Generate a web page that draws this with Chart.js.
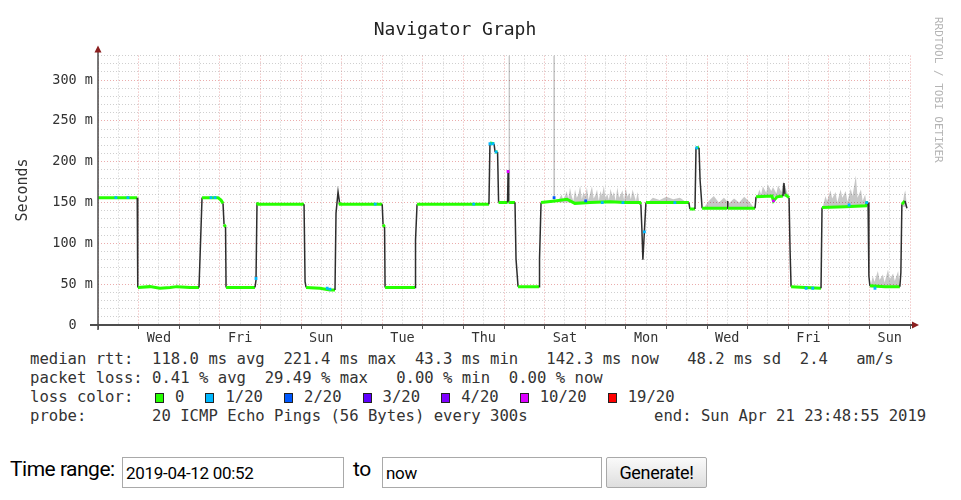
<!DOCTYPE html>
<html>
<head>
<meta charset="utf-8">
<script src="https://cdn.jsdelivr.net/npm/chart.js@4.4.1/dist/chart.umd.min.js"></script>
<style>
  body { margin: 0; background: #fff; width: 961px; height: 500px; overflow: hidden; position: relative; }
  #graph { position: absolute; left: 0; top: 0; }
  .legend { position: absolute; left: 30px; top: 350px; font: 15.6px "DejaVu Sans Mono", monospace; line-height: 19px; color: #333; }
  .legend div { height: 19px; position: relative; white-space: pre; }
  .sw { display: inline-block; width: 7px; height: 8px; border: 1px solid #222; vertical-align: -1px; margin-right: 11px; }
  .end { position: absolute; left: 624px; top: 0; }
  .lbl { position: absolute; top: 457px; height: 31px; line-height: 31px; font: 21px Roboto, sans-serif; color: #000; letter-spacing: -0.5px; }
  .box { position: absolute; top: 457px; height: 31px; box-sizing: border-box; border: 1px solid #a9a9a9; padding: 0 3px; font: 17px Roboto, sans-serif; color: #000; outline: none; letter-spacing: -0.3px; }
  button { position: absolute; top: 457px; left: 606px; width: 101px; height: 31px; font: 18px Roboto, sans-serif; letter-spacing: -0.3px;
           border: 1px solid #a9a9a9; border-radius: 2px; background: linear-gradient(#fafafa, #dedede); color: #000; padding: 0; }
</style>
</head>
<body>
<canvas id="graph" width="961" height="345"></canvas>

<div class="legend">
<div>median rtt:  118.0 ms avg  221.4 ms max  43.3 ms min   142.3 ms now   48.2 ms sd  2.4   am/s</div>
<div>packet loss: 0.41 % avg  29.49 % max   0.00 % min  0.00 % now</div>
<div id="lossRow">loss color:  </div>
<div>probe:       20 ICMP Echo Pings (56 Bytes) every 300s<span class="end">end: Sun Apr 21 23:48:55 2019</span></div>
</div>

<span class="lbl" style="left:10px">Time range:</span>
<input class="box" style="left:122px;width:222px" value="2019-04-12 00:52" readonly>
<span class="lbl" style="left:353px">to</span>
<input class="box" style="left:382px;width:220px" value="now" readonly>
<button>Generate!</button>

<script>
// hours since Tue Apr 2 00:00, median rtt in ms
const medianHours = [0, 23.2, 23.4, 23.6, 30.7, 36.6, 42.6, 46.7, 54.4, 59.7, 60.3, 61.5, 70.9, 72.7, 73.9, 74.5, 75.4, 75.7,
  83.9, 92.8, 93.4, 94.0, 94.6, 107.6, 121.8, 122.4, 123.0, 131.2, 137.1, 140.1, 140.7, 141.9, 142.8, 143.1,
  154.9, 168.0, 168.5, 169.4, 169.7, 178.5, 187.4, 187.7, 188.6, 208.1, 231.1, 231.7, 234.1, 234.7, 236.2, 236.8,
  242.1, 242.4, 242.7, 246.5, 247.1, 248.3, 260.7, 261.0, 261.9, 270.1, 277.2, 281.9, 290.8, 302.6, 311.5, 320.3,
  320.9, 321.5, 322.1, 323.0, 323.9, 338.1, 349.3, 349.9, 352.9, 353.5, 355.3, 355.9, 357.1, 371.9, 372.1, 372.4,
  388.4, 389.0, 398.4, 399.3, 401.4, 404.9, 405.5, 406.1, 408.5, 409.1, 409.7, 418.0, 427.4, 428.0, 441.6, 454.0,
  454.6, 455.2, 455.7, 456.3, 465.2, 474.0, 474.6, 475.2, 477.0, 478.2];
const medianMs = [156, 156, 101, 46, 47, 45, 46, 47, 46, 46, 82, 156, 156, 153, 149, 123, 120, 46,
  46, 46, 55, 150, 148, 148, 148, 53, 46, 45, 43, 43, 137, 163, 150, 148,
  148, 148, 123, 120, 46, 46, 46, 104, 148, 148, 148, 223, 222, 212, 212, 150,
  150, 188, 150, 150, 81, 47, 47, 81, 150, 152, 154, 149, 150, 151, 150, 150,
  148, 118, 80, 115, 150, 150, 150, 142, 142, 217, 217, 178, 143, 143, 152, 143,
  143, 157, 158, 152, 157, 158, 174, 160, 156, 92, 47, 46, 45, 144, 145, 146,
  150, 150, 60, 48, 47, 47, 64, 148, 152, 143];

// smoke (spread of the 20 pings), null = no smoke
const smokeHours = [46.3, 46.7, 47.1, 47.2,
  242.5, 242.65, 243.55, 243.7, 243.8,
  269.0, 269.15, 270.1, 270.25, 270.3,
  272, 273, 274, 275, 276, 277, 278, 279, 280, 281, 282, 283, 284, 285, 286, 287, 288, 289, 290, 291, 292, 293, 294, 295, 296,
  297, 298, 299, 300, 301, 302, 303, 304, 305, 306, 307, 308, 309, 310, 311, 312, 313, 314, 315, 316, 317, 318, 319, 320, 320.2,
  325, 328, 332, 336, 340, 344, 348, 348.2,
  358, 361, 364, 367, 370, 373, 376, 379, 382, 385, 388, 388.2,
  389.5, 391, 392, 393, 395, 396, 398, 399, 401, 402, 404, 405, 407, 408.3, 408.4,
  428.5, 430, 431, 433, 434, 436, 437, 439, 440, 442, 443, 445, 446, 448, 449, 451, 452, 453.5, 454.5, 454.6,
  456.5, 458, 459, 461, 462, 464, 465, 467, 468, 470, 471, 473, 474, 474.1,
  475.5, 476.5, 477.2, 478.2];
const smokeLow = [46, 46, 46, null,
  150, 150, 150, 150, null,
  152, 152, 152, 152, null,
  150, 150, 150, 150, 150, 150, 150, 150, 150, 150, 150, 150, 150, 150, 150, 150, 150, 150, 150, 150, 150, 150, 150, 150, 150,
  150, 150, 150, 150, 150, 150, 150, 150, 150, 150, 150, 150, 150, 150, 150, 150, 150, 150, 150, 150, 150, 150, 150, 150, null,
  150, 150, 150, 150, 150, 150, 150, null,
  143, 143, 143, 143, 143, 143, 143, 143, 143, 143, 143, null,
  157, 157, 157, 157, 157, 157, 157, 157, 157, 157, 157, 157, 157, 157, null,
  145, 145, 145, 145, 145, 145, 145, 145, 145, 145, 145, 145, 145, 145, 145, 145, 145, 145, 145, null,
  46, 46, 46, 46, 46, 46, 46, 46, 46, 46, 46, 46, 46, null,
  145, 145, 145, 145];
const smokeHigh = [46, 58, 46, null,
  150, 331, 331, 150, null,
  152, 331, 331, 152, null,
  150, 156, 160, 153, 157, 164, 155, 168, 158, 152, 166, 156, 160, 171, 154, 163, 157, 169, 153, 162, 170, 155, 159, 166, 152,
  164, 158, 171, 155, 161, 153, 167, 158, 163, 152, 169, 156, 160, 165, 153, 168, 157, 162, 154, 166, 159, 152, 163, 150, null,
  150, 156, 153, 157, 154, 156, 150, null,
  143, 152, 158, 150, 156, 149, 155, 150, 157, 151, 143, null,
  157, 166, 160, 170, 162, 172, 164, 169, 161, 171, 163, 176, 165, 157, null,
  145, 158, 152, 165, 155, 163, 150, 166, 156, 164, 151, 167, 158, 183, 156, 166, 152, 160, 145, null,
  46, 60, 53, 66, 55, 62, 52, 68, 56, 63, 54, 66, 46, null,
  145, 160, 165, 145];

// samples with packet loss
const loss1Hours = [10.6, 17.7, 66.8, 69.2, 93.4, 135.5, 137.1, 163.9, 222.1, 231.7, 233.5, 235.3, 298.1, 310.3, 323.0, 341.0, 353.9, 418.6, 422.5, 444.0, 454.4, 459.3];
const loss1Ms = [156, 156, 156, 156, 57, 45, 44, 148, 148, 222, 222, 212, 150, 150, 114, 150, 217, 45, 45, 147, 150, 45];
const loss2Hours = [269.6, 288.3];
const loss2Ms = [156, 152];
const loss10Hours = [242.4, 399.3];
const loss10Ms = [188, 152];

const dayLabels = ['Wed', 'Fri', 'Sun', 'Tue', 'Thu', 'Sat', 'Mon', 'Wed', 'Fri', 'Sun'];
const yTickLabels = ['0  ', '50 m', '100 m', '150 m', '200 m', '250 m', '300 m'];
const lossLabels = ['0', '1/20', '2/20', '3/20', '4/20', '10/20', '19/20'];
const lossColors = ['#26ff00', '#00b8ff', '#0059ff', '#5e00ff', '#7e00ff', '#dd00ff', '#ff0000'];

// loss colour row of the text legend
const row = document.getElementById('lossRow');
lossLabels.forEach((lab, i) => {
  const sw = document.createElement('span');
  sw.className = 'sw';
  sw.style.background = lossColors[i];
  sw.style.marginLeft = i === 0 ? '3px' : '21px';
  row.appendChild(sw);
  row.appendChild(document.createTextNode(lab));
});

const pts = (xs, ys) => xs.map((x, i) => ({ x: x, y: ys[i] }));
const isJump = c => Math.abs(c.p1.parsed.y - c.p0.parsed.y) > 6 && (c.p1.parsed.x - c.p0.parsed.x) < 1.6;
const mono = 'DejaVu Sans Mono';
const majorGrid = 'rgba(215,90,90,0.5)';
const minorGrid = 'rgba(160,160,160,0.5)';

const decor = {
  id: 'decor',
  afterDatasetsDraw(chart) {
    const ctx = chart.ctx;
    const a = chart.chartArea;
    ctx.save();
    ctx.strokeStyle = '#4d4d4d';
    ctx.lineWidth = 2;
    ctx.beginPath(); ctx.moveTo(90, a.bottom); ctx.lineTo(a.right + 3, a.bottom); ctx.stroke();
    ctx.lineWidth = 1.5;
    ctx.beginPath(); ctx.moveTo(a.left, a.bottom + 5); ctx.lineTo(a.left, a.top - 4); ctx.stroke();
    ctx.fillStyle = '#8b1f1f';
    ctx.beginPath(); ctx.moveTo(a.right + 2, a.bottom - 3.5); ctx.lineTo(a.right + 9, a.bottom); ctx.lineTo(a.right + 2, a.bottom + 3.5); ctx.fill();
    ctx.beginPath(); ctx.moveTo(a.left - 3.5, a.top - 3); ctx.lineTo(a.left, a.top - 10); ctx.lineTo(a.left + 3.5, a.top - 3); ctx.fill();
    ctx.restore();
  },
  afterDraw(chart) {
    const ctx = chart.ctx;
    ctx.save();
    ctx.translate(23, 190);
    ctx.rotate(-Math.PI / 2);
    ctx.font = '15px "' + mono + '"';
    ctx.fillStyle = '#333';
    ctx.textAlign = 'center';
    ctx.textBaseline = 'middle';
    ctx.fillText('Seconds', 0, 0);
    ctx.restore();
    ctx.save();
    ctx.translate(938, 17);
    ctx.rotate(Math.PI / 2);
    ctx.font = '11px "' + mono + '"';
    ctx.fillStyle = '#b4b4b4';
    ctx.textAlign = 'left';
    ctx.textBaseline = 'middle';
    ctx.fillText('RRDTOOL / TOBI OETIKER', 0, 0);
    ctx.restore();
  }
};

new Chart(document.getElementById('graph'), {
  type: 'line',
  data: {
    datasets: [
      { data: pts(smokeHours, smokeLow), borderWidth: 0, pointRadius: 0, fill: false, order: 5 },
      { data: pts(smokeHours, smokeHigh), borderWidth: 0, pointRadius: 0, fill: '-1', backgroundColor: 'rgba(0,0,0,0.22)', order: 4 },
      {
        data: pts(medianHours, medianMs), pointRadius: 0, borderColor: lossColors[0], borderWidth: 3, order: 2,
        segment: {
          borderColor: c => isJump(c) ? '#2e2e2e' : lossColors[0],
          borderWidth: c => isJump(c) ? 1.5 : 3
        }
      },
      { data: pts(loss1Hours, loss1Ms), showLine: false, pointStyle: 'rect', pointRadius: 2, borderWidth: 0, backgroundColor: lossColors[1], order: 1 },
      { data: pts(loss2Hours, loss2Ms), showLine: false, pointStyle: 'rect', pointRadius: 2, borderWidth: 0, backgroundColor: lossColors[2], order: 1 },
      { data: pts(loss10Hours, loss10Ms), showLine: false, pointStyle: 'rect', pointRadius: 2, borderWidth: 0, backgroundColor: lossColors[5], order: 0 }
    ]
  },
  options: {
    responsive: false,
    animation: false,
    layout: { padding: { left: 0, right: 51, top: 0, bottom: 0 } },
    elements: { line: { tension: 0 } },
    plugins: {
      legend: { display: false },
      tooltip: { enabled: false },
      title: {
        display: true,
        text: 'Navigator Graph',
        color: '#222',
        font: { family: mono, size: 18, weight: 'normal', lineHeight: 1.2 },
        padding: { top: 20, bottom: 14 }
      }
    },
    scales: {
      x: {
        type: 'linear',
        min: 0,
        max: 480,
        afterFit: s => { s.height = 20; },
        border: { display: false, dash: [1, 2] },
        grid: {
          color: c => c.tick.value % 24 === 0 ? majorGrid : minorGrid,
          tickColor: c => c.tick.value % 24 === 0 ? '#555' : 'rgba(0,0,0,0)',
          tickLength: 4,
          tickWidth: 1
        },
        ticks: {
          stepSize: 12,
          autoSkip: false,
          maxRotation: 0,
          minRotation: 0,
          padding: 1,
          color: '#333',
          font: { family: mono, size: 13.5 },
          callback: v => (v - 36) % 48 === 0 ? dayLabels[(v - 36) / 48] : ''
        }
      },
      y: {
        min: 0,
        max: 330,
        afterFit: s => { s.width = 98; },
        border: { display: false, dash: [1, 2] },
        grid: {
          color: c => c.tick.value % 50 === 0 ? majorGrid : minorGrid,
          drawTicks: false
        },
        ticks: {
          stepSize: 10,
          autoSkip: false,
          padding: 5,
          color: '#333',
          font: { family: mono, size: 13.5 },
          callback: v => v % 50 === 0 ? yTickLabels[v / 50] : ''
        }
      }
    }
  },
  plugins: [decor]
});
</script>
</body>
</html>
